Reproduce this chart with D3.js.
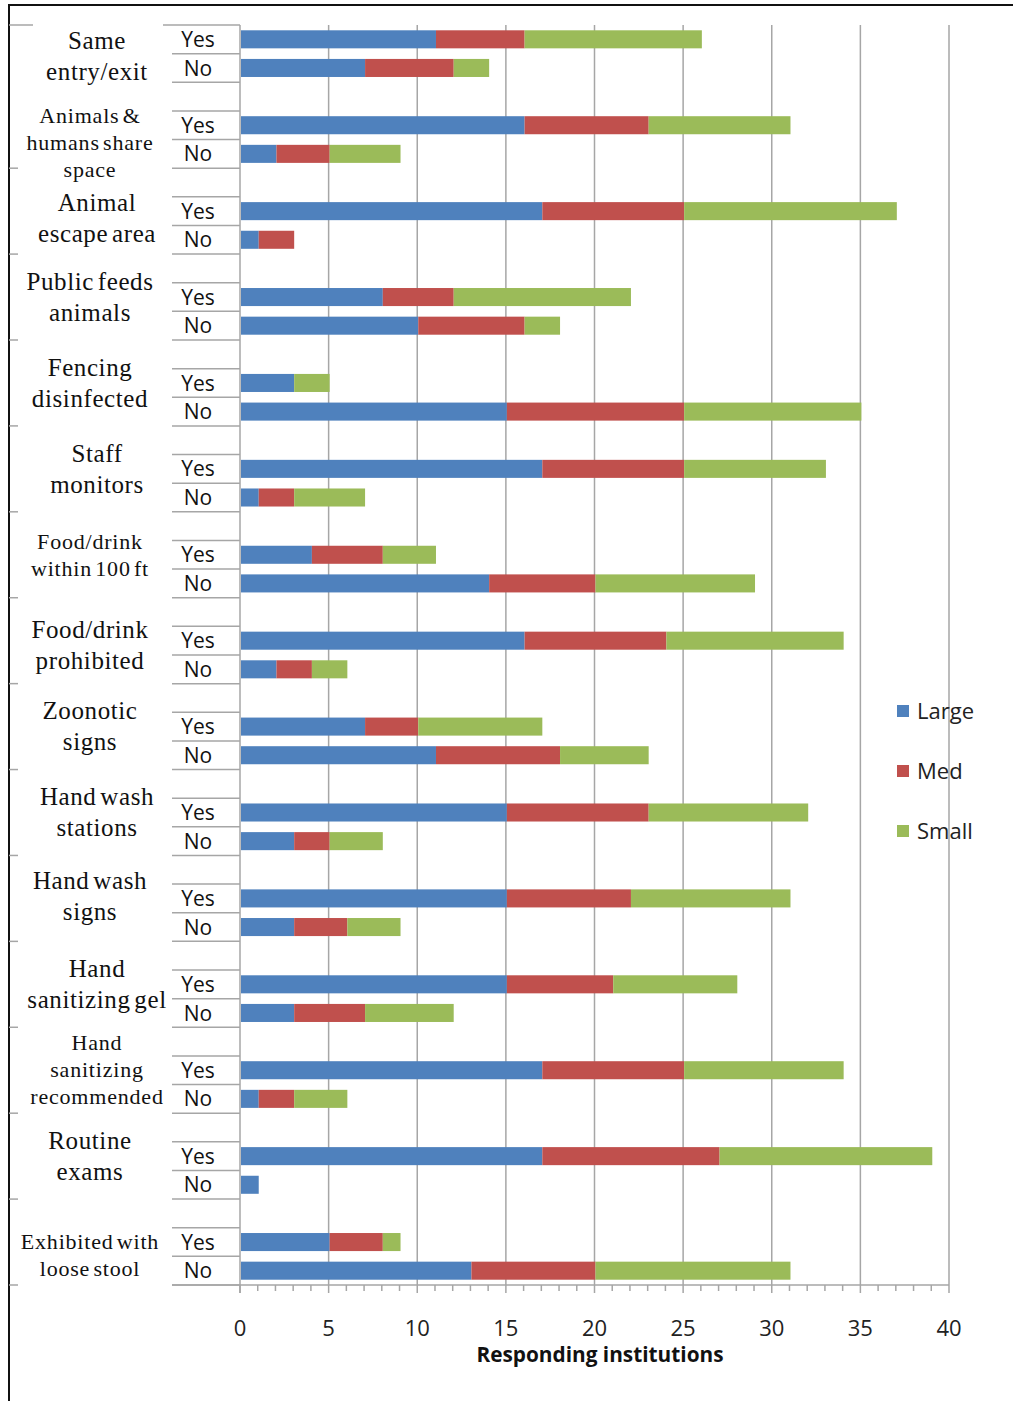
<!DOCTYPE html>
<html>
<head>
<meta charset="utf-8">
<script src="https://cdn.jsdelivr.net/npm/d3@7"></script>
<style>
  html, body { margin: 0; padding: 0; background: #fff; }
  svg { display: block; }
</style>
</head>
<body>
<svg id="chart" width="1013" height="1401"></svg>
<script>
// Practices surveyed, one group per practice (label lines as displayed)
const practices = [
  ["Same", "entry/exit"],
  ["Animals &", "humans share", "space"],
  ["Animal", "escape area"],
  ["Public feeds", "animals"],
  ["Fencing", "disinfected"],
  ["Staff", "monitors"],
  ["Food/drink", "within 100 ft"],
  ["Food/drink", "prohibited"],
  ["Zoonotic", "signs"],
  ["Hand wash", "stations"],
  ["Hand wash", "signs"],
  ["Hand", "sanitizing gel"],
  ["Hand", "sanitizing", "recommended"],
  ["Routine", "exams"],
  ["Exhibited with", "loose stool"]
];
const answers = ["Yes", "No"];
const sizes = ["Large", "Med", "Small"];

// Number of responding institutions by size, answer "Yes"
const largeYes = [11, 16, 17, 8, 3, 17, 4, 16, 7, 15, 15, 15, 17, 17, 5];
const medYes   = [5, 7, 8, 4, 0, 8, 4, 8, 3, 8, 7, 6, 8, 10, 3];
const smallYes = [10, 8, 12, 10, 2, 8, 3, 10, 7, 9, 9, 7, 9, 12, 1];
// Number of responding institutions by size, answer "No"
const largeNo  = [7, 2, 1, 10, 15, 1, 14, 2, 11, 3, 3, 3, 1, 1, 13];
const medNo    = [5, 3, 2, 6, 10, 2, 6, 2, 7, 2, 3, 4, 2, 0, 7];
const smallNo  = [2, 4, 0, 2, 10, 4, 9, 2, 5, 3, 3, 5, 3, 0, 11];

const xTicks = [0, 5, 10, 15, 20, 25, 30, 35, 40];
const xTitle = "Responding institutions";

const colors = { Large: "#4F81BD", Med: "#C0504D", Small: "#9BBB59" };

// Group label typography and placement tweaks
const compactGroups = new Set([1, 6, 12, 14]);
const labelShiftY = { 0: 3, 1: 18, 2: 7, 7: 5, 10: -2, 14: 13 };
const wideLabelGroups = new Set([0, 2, 5, 9, 11, 12]);

const svg = d3.select("#chart");

const plot = { left: 240, right: 949, top: 25, bottom: 1285 };

const x = d3.scaleLinear().domain([0, 40]).range([plot.left, plot.right]);

// Category slots: a spacer row before every group but the first, then Yes and No
const slotKeys = [];
practices.forEach((p, g) => {
  if (g > 0) slotKeys.push(g + "-gap");
  answers.forEach(a => slotKeys.push(g + "-" + a));
});
const y = d3.scaleBand()
  .domain(slotKeys)
  .range([plot.top, plot.bottom])
  .paddingInner(0.37)
  .paddingOuter(0.185);
const step = y.step();
const slotTop = k => y(k) - y.paddingOuter() * step;

// Rows for the stacked bars
const rows = [];
practices.forEach((p, g) => {
  rows.push({ key: g + "-Yes", Large: largeYes[g], Med: medYes[g], Small: smallYes[g] });
  rows.push({ key: g + "-No", Large: largeNo[g], Med: medNo[g], Small: smallNo[g] });
});
const stacked = d3.stack().keys(sizes)(rows);

// Outer frame (left and top rules)
svg.append("line").attr("x1", 9).attr("x2", 9).attr("y1", 5).attr("y2", 1401)
  .attr("stroke", "#111").attr("stroke-width", 2);
svg.append("line").attr("x1", 8).attr("x2", 1013).attr("y1", 5).attr("y2", 5)
  .attr("stroke", "#111").attr("stroke-width", 2);

// Vertical gridlines
svg.append("g")
  .selectAll("line")
  .data(xTicks.filter(t => t > 0))
  .join("line")
  .attr("x1", d => x(d)).attr("x2", d => x(d))
  .attr("y1", plot.top).attr("y2", plot.bottom)
  .attr("stroke", "#a6a6a6").attr("stroke-width", 1.5);

// Stacked bars
svg.append("g")
  .selectAll("g")
  .data(stacked)
  .join("g")
  .attr("fill", d => colors[d.key])
  .selectAll("rect")
  .data(d => d)
  .join("rect")
  .attr("x", d => x(d[0]) + 1)
  .attr("y", d => y(d.data.key))
  .attr("width", d => Math.max(0, x(d[1]) - x(d[0])))
  .attr("height", y.bandwidth());

// Bottom axis with minor ticks
const axisG = svg.append("g").attr("transform", `translate(0,${plot.bottom})`);
axisG.append("line")
  .attr("x1", 172).attr("x2", plot.right)
  .attr("y1", 0).attr("y2", 0)
  .attr("stroke", "#a6a6a6").attr("stroke-width", 1.5);
axisG.selectAll("line.minor")
  .data(d3.range(0, 41))
  .join("line")
  .attr("class", "minor")
  .attr("x1", d => x(d)).attr("x2", d => x(d))
  .attr("y1", 0).attr("y2", d => d % 5 === 0 ? 8 : 6)
  .attr("stroke", "#a6a6a6").attr("stroke-width", 1.5);
axisG.selectAll("text")
  .data(xTicks)
  .join("text")
  .attr("x", d => x(d))
  .attr("y", 51)
  .attr("text-anchor", "middle")
  .attr("font-family", "'Open Sans', sans-serif")
  .attr("font-size", 22)
  .attr("fill", "#222")
  .text(d => d);

// Axis title
svg.append("text")
  .attr("x", 600)
  .attr("y", 1362)
  .attr("text-anchor", "middle")
  .attr("font-family", "'Open Sans', sans-serif")
  .attr("font-weight", 700)
  .attr("font-size", 20.8)
  .attr("fill", "#111")
  .text(xTitle);

// Vertical category axis line
svg.append("line")
  .attr("x1", plot.left).attr("x2", plot.left)
  .attr("y1", plot.top).attr("y2", plot.bottom + 8)
  .attr("stroke", "#a6a6a6").attr("stroke-width", 1.5);

// Inner-level separators (between slots)
const boundaries = slotKeys.map(slotTop).concat([plot.bottom]);
svg.append("g")
  .selectAll("line")
  .data(boundaries)
  .join("line")
  .attr("x1", (d, i) => i === 0 ? 163 : 172).attr("x2", plot.left)
  .attr("y1", d => d).attr("y2", d => d)
  .attr("stroke", "#a6a6a6").attr("stroke-width", 1.5);

// Outer-level separators at group boundaries
const groupTops = practices.map((p, g) => g === 0 ? plot.top : slotTop(g + "-gap"));
const groupBottoms = practices.map((p, g) => g === practices.length - 1 ? plot.bottom : slotTop((g + 1) + "-gap"));
svg.append("line")
  .attr("x1", 9).attr("x2", 33).attr("y1", plot.top).attr("y2", plot.top)
  .attr("stroke", "#a6a6a6").attr("stroke-width", 1.5);
svg.append("g")
  .selectAll("line")
  .data(groupTops.slice(2).concat([plot.bottom]))
  .join("line")
  .attr("x1", 9).attr("x2", 18)
  .attr("y1", d => d).attr("y2", d => d)
  .attr("stroke", "#a6a6a6").attr("stroke-width", 1.5);

// Yes / No labels
svg.append("g")
  .selectAll("text")
  .data(rows)
  .join("text")
  .attr("x", 198)
  .attr("y", d => y(d.key) + y.bandwidth() / 2)
  .attr("dy", "0.36em")
  .attr("text-anchor", "middle")
  .attr("font-family", "'Open Sans', sans-serif")
  .attr("font-size", 21)
  .attr("fill", "#111")
  .text(d => d.key.split("-")[1]);

// Group labels
const labelG = svg.append("g");
practices.forEach((lines, g) => {
  const compact = compactGroups.has(g);
  const fs = compact ? 22 : 25;
  const lh = compact ? 27 : 31;
  const cy = (groupTops[g] + groupBottoms[g]) / 2 + (labelShiftY[g] || 0);
  const cx = wideLabelGroups.has(g) ? 97 : 90;
  labelG.append("g")
    .selectAll("text")
    .data(lines)
    .join("text")
    .attr("x", cx)
    .attr("y", (d, i) => cy + (i - (lines.length - 1) / 2) * lh)
    .attr("dy", "0.33em")
    .attr("text-anchor", "middle")
    .attr("font-family", "'Liberation Serif', 'Times New Roman', serif")
    .attr("font-size", fs)
    .attr("letter-spacing", compact ? 0.8 : 0.6)
    .attr("word-spacing", -3)
    .attr("fill", "#111")
    .text(d => d);
});

// Legend
const legend = svg.append("g").attr("transform", "translate(897,711)");
const li = legend.selectAll("g")
  .data(sizes)
  .join("g")
  .attr("transform", (d, i) => `translate(0,${i * 60})`);
li.append("rect")
  .attr("x", 0).attr("y", -6)
  .attr("width", 12).attr("height", 12)
  .attr("fill", d => colors[d]);
li.append("text")
  .attr("x", 20).attr("y", 0)
  .attr("dy", "0.36em")
  .attr("font-family", "'Open Sans', sans-serif")
  .attr("font-size", 22)
  .attr("fill", "#222")
  .text(d => d);
</script>
</body>
</html>
